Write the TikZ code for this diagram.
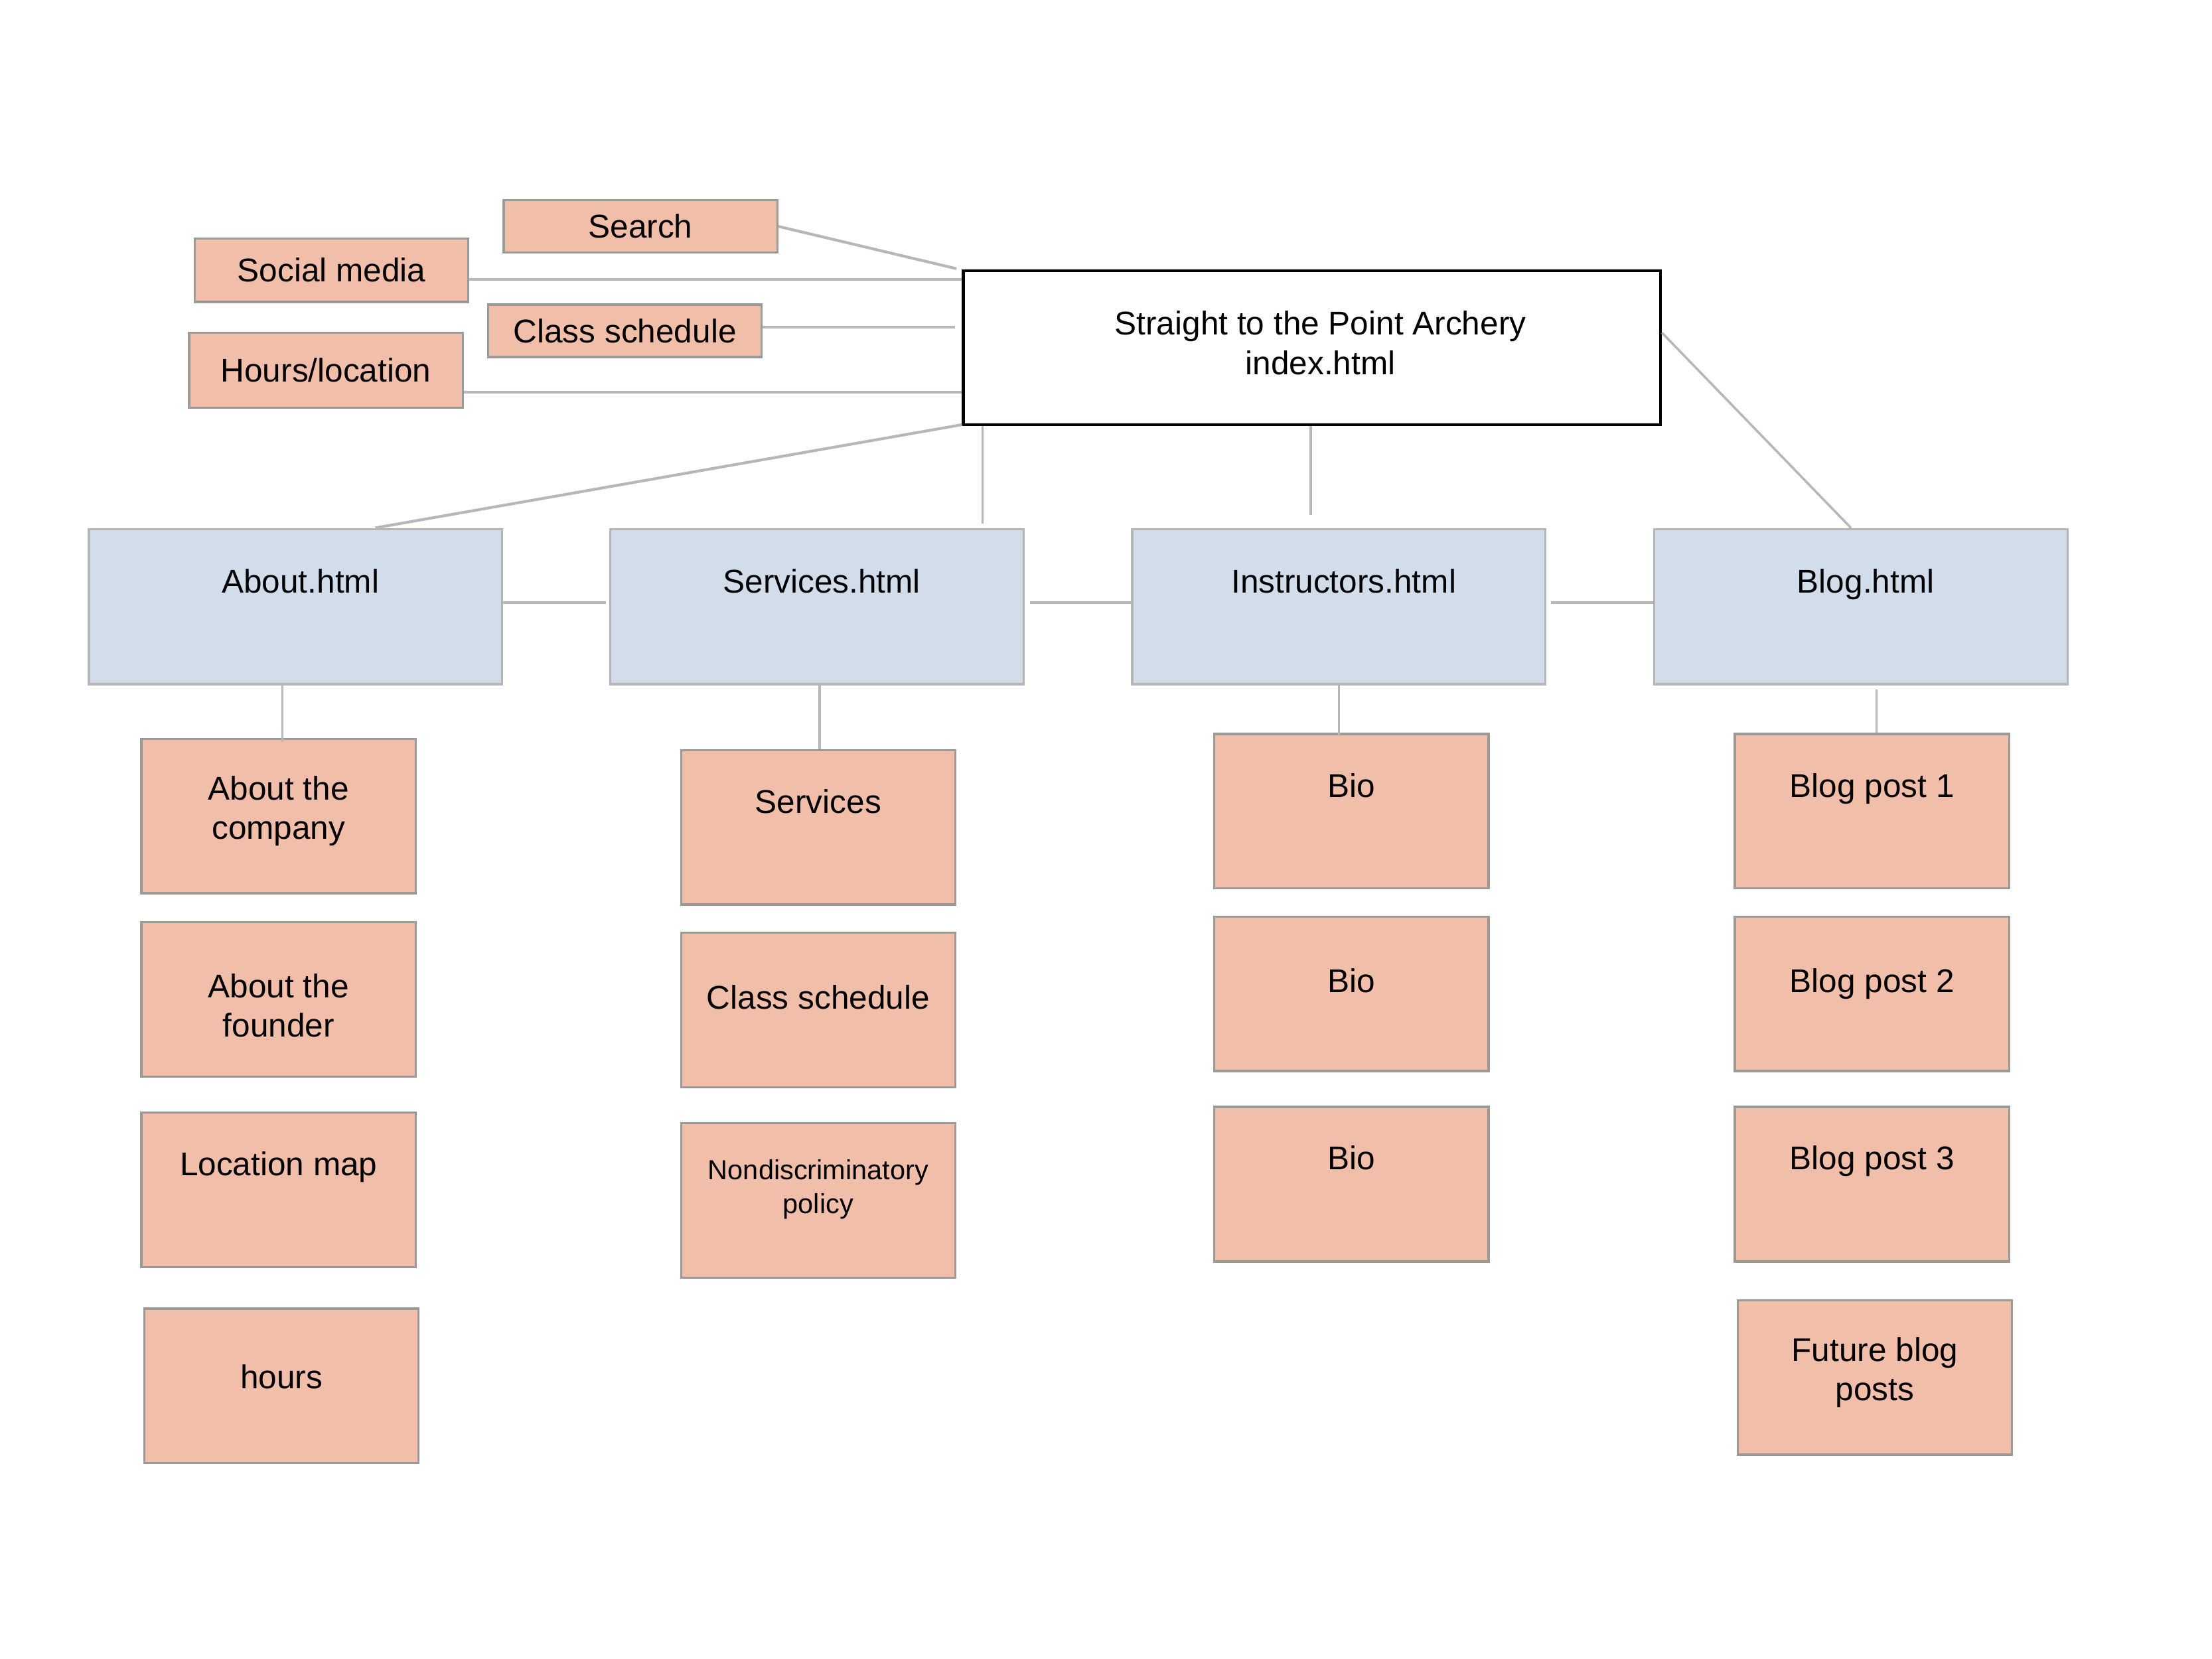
\documentclass[tikz,border=0pt]{standalone}
\usepackage{fontspec}
\setmainfont{Liberation Sans}
\usetikzlibrary{calc}
\definecolor{salmon}{HTML}{F1BEA9}
\definecolor{salmonedge}{HTML}{9C9999}
\definecolor{bluefill}{HTML}{D2DDEC}
\definecolor{blueedge}{HTML}{B5B5B5}
\definecolor{conn}{HTML}{B7B7B7}
\tikzset{
  leaf/.style={draw=salmonedge, fill=salmon, line width=0.95pt, inner sep=0pt,
    minimum width=117.6pt, minimum height=66.2pt},
  topbox/.style={draw=salmonedge, fill=salmon, line width=0.95pt, inner sep=0pt,
    minimum width=117.3pt, font=\fontsize{14.1pt}{16.9pt}\selectfont,
    text height=10.1pt, text depth=0pt},
  pagebox/.style={draw=blueedge, fill=bluefill, line width=0.95pt, inner sep=0pt,
    minimum width=177.2pt, minimum height=66.5pt},
  mainbox/.style={draw=black, fill=white, line width=1.3pt, inner sep=0pt,
    minimum width=298.8pt, minimum height=65.9pt},
  txt/.style={font=\fontsize{14.1pt}{16.9pt}\selectfont, align=center, inner sep=0pt},
  one/.style={txt, text height=10.1pt, text depth=0pt},
  smalltxt/.style={font=\fontsize{11.8pt}{14.5pt}\selectfont, align=center, inner sep=0pt},
  cline/.style={draw=conn, line width=1pt},
  tline/.style={draw=conn, line width=1.2pt},
}
\begin{document}
\begin{tikzpicture}[x=0.021256cm, y=-0.021256cm]
\useasboundingbox (0,0) rectangle (1568,1176);

% top-level helper boxes
\node[topbox, minimum height=22.4pt] (search) at (454,160.5) {Search};
\node[topbox, minimum height=27.2pt] (soc) at (235,191.5) {Social media};
\node[topbox, minimum height=22.4pt] (cls) at (443,234.5) {Class schedule};
\node[topbox, minimum height=32.1pt] (hrs) at (231,262.5) {Hours/location};

% main page
\node[mainbox, label={[txt, xshift=3.6pt, yshift=2.1pt]center:{Straight to the Point Archery\\index.html}}] (main) at (930,246.5) {};

% second level
\node[pagebox, label={[one, xshift=2.1pt, yshift=10.9pt]center:{About.html}}] (about) at (209.5,430) {};
\node[pagebox, label={[one, xshift=2.1pt, yshift=10.9pt]center:{Services.html}}] (serv) at (579,430) {};
\node[pagebox, label={[one, xshift=2.1pt, yshift=10.9pt]center:{Instructors.html}}] (inst) at (949,430) {};
\node[pagebox, label={[one, xshift=2.1pt, yshift=10.9pt]center:{Blog.html}}] (blog) at (1319,430) {};

% leaves: about
\node[leaf, label={[txt, yshift=2.1pt]center:{About the\\company}}] (ab1) at (197.5,578.5) {};
\node[leaf, label={[txt, yshift=-2.7pt]center:{About the\\founder}}] (ab2) at (197.5,708.5) {};
\node[leaf, label={[one, yshift=11.2pt]center:{Location map}}] (ab3) at (197.5,843.5) {};
\node[leaf, label={[one, yshift=3.9pt]center:{hours}}] (ab4) at (199.5,982.5) {};

% leaves: services
\node[leaf, label={[one, yshift=11.2pt]center:{Services}}] (sv1) at (580,586.5) {};
\node[leaf, label={[one, yshift=5.4pt]center:{Class schedule}}] (sv2) at (580,716) {};
\node[leaf, label={[smalltxt, yshift=4.8pt]center:{Nondiscriminatory\\policy}}] (sv3) at (580,851) {};

% leaves: instructors
\node[leaf, label={[one, yshift=10.9pt]center:{Bio}}] (in1) at (958,575) {};
\node[leaf, label={[one, yshift=5.7pt]center:{Bio}}] (in2) at (958,704.5) {};
\node[leaf, label={[one, yshift=11.2pt]center:{Bio}}] (in3) at (958,839.5) {};

% leaves: blog
\node[leaf, label={[one, yshift=10.9pt]center:{Blog post 1}}] (bl1) at (1327,575) {};
\node[leaf, label={[one, yshift=5.7pt]center:{Blog post 2}}] (bl2) at (1327,704.5) {};
\node[leaf, label={[one, yshift=11.2pt]center:{Blog post 3}}] (bl3) at (1327,839.5) {};
\node[leaf, label={[txt, yshift=2.1pt]center:{Future blog\\posts}}] (bl4) at (1329,976.5) {};

% connectors to the main box (left side)
\draw[tline] (search.east) -- ([xshift=-2.4pt, yshift=0.3pt]main.north west);
\coordinate (s1) at ([yshift=-3.9pt]soc.east);
\draw[tline] (s1) -- (s1 -| main.west);
\coordinate (c1) at ([yshift=1.5pt]cls.east);
\draw[tline] (c1) -- ($(c1 -| main.west)+(-5,0)$);
\coordinate (h1) at ([yshift=-9.4pt]hrs.east);
\draw[tline] (h1) -- (h1 -| main.west);

% connectors main -> second level
\draw[tline] ([yshift=0.6pt]main.south west) -- ([xshift=34.2pt]about.north);
\coordinate (v1) at ([xshift=8.8pt]main.south west);
\draw[cline] (v1) -- ($(v1 |- serv.north)+(0,-3)$);
\coordinate (v2) at ([xshift=-0.6pt]main.south);
\draw[cline] (v2) -- ($(v2 |- inst.north)+(0,-9)$);
\draw[cline] ([yshift=6.4pt]main.east) -- ([xshift=-4.2pt]blog.north);

% horizontal links between second-level pages
\draw[tline] ([yshift=1.8pt]about.east) -- ([xshift=-1.2pt,yshift=1.8pt]serv.west);
\draw[tline] ([xshift=2.4pt,yshift=1.8pt]serv.east) -- ([yshift=1.8pt]inst.west);
\draw[tline] ([xshift=1.8pt,yshift=1.8pt]inst.east) -- ([yshift=1.8pt]blog.west);

% second level -> first leaf
\coordinate (d1) at ([xshift=-5.7pt]about.south);
\draw[cline] (d1) -- ($(d1 |- ab1.north)+(0,3)$);
\coordinate (d2) at ([xshift=1.2pt]serv.south);
\draw[cline] (d2) -- (d2 |- sv1.north);
\coordinate (d3) at (inst.south);
\draw[cline] (d3) -- ($(d3 |- in1.north)+(0,2)$);
\coordinate (d4) at ([xshift=6.7pt, yshift=-1.8pt]blog.south);
\draw[cline] (d4) -- (d4 |- bl1.north);
\end{tikzpicture}
\end{document}
